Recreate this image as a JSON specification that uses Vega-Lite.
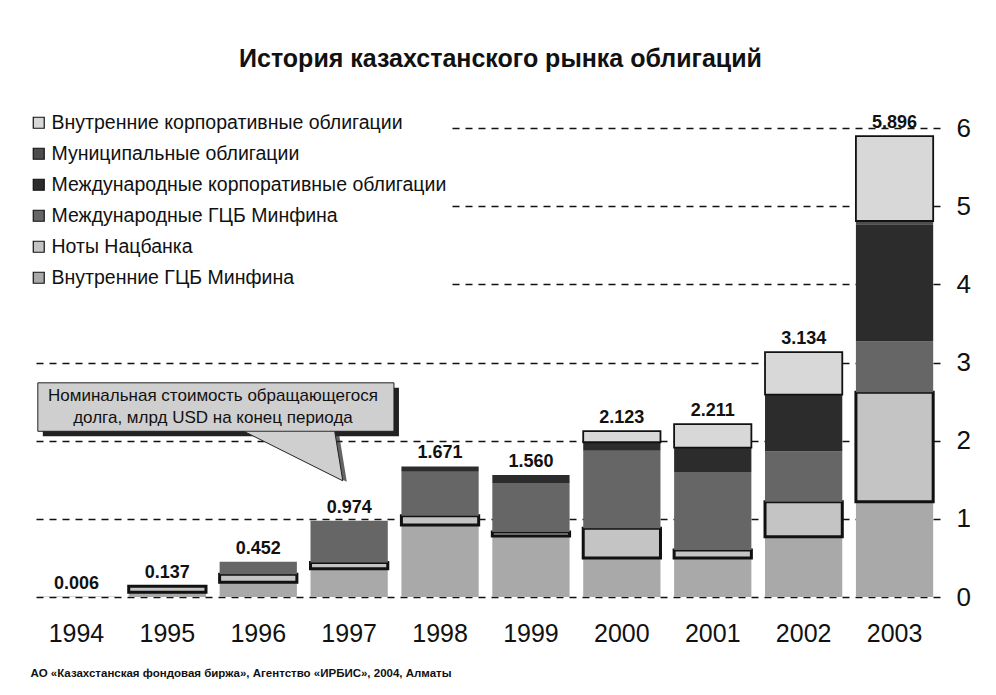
{
  "$schema": "https://vega.github.io/schema/vega-lite/v6.json",
  "autosize": "none",
  "width": 909,
  "height": 469,
  "padding": {"left": 31, "top": 128, "right": 56, "bottom": 98},
  "background": "white",
  "config": {
    "font": "Liberation Sans",
    "view": {"stroke": null}
  },
  "title": {
    "text": "История казахстанского рынка облигаций",
    "fontSize": 25,
    "fontWeight": "bold",
    "font": "Liberation Sans",
    "color": "#111",
    "anchor": "middle",
    "frame": "group",
    "dx": 15,
    "offset": 39
  },
  "datasets": {
    "segments": [
      {"year": "1994", "series": "Внутренние ГЦБ Минфина", "value": 0.006},
      {"year": "1995", "series": "Внутренние ГЦБ Минфина", "value": 0.06},
      {"year": "1995", "series": "Ноты Нацбанка", "value": 0.077},
      {"year": "1996", "series": "Внутренние ГЦБ Минфина", "value": 0.19},
      {"year": "1996", "series": "Ноты Нацбанка", "value": 0.10},
      {"year": "1996", "series": "Международные ГЦБ Минфина", "value": 0.162},
      {"year": "1997", "series": "Внутренние ГЦБ Минфина", "value": 0.36},
      {"year": "1997", "series": "Ноты Нацбанка", "value": 0.08},
      {"year": "1997", "series": "Международные ГЦБ Минфина", "value": 0.534},
      {"year": "1998", "series": "Внутренние ГЦБ Минфина", "value": 0.92},
      {"year": "1998", "series": "Ноты Нацбанка", "value": 0.12},
      {"year": "1998", "series": "Международные ГЦБ Минфина", "value": 0.561},
      {"year": "1998", "series": "Международные корпоративные облигации", "value": 0.07},
      {"year": "1999", "series": "Внутренние ГЦБ Минфина", "value": 0.78},
      {"year": "1999", "series": "Ноты Нацбанка", "value": 0.05},
      {"year": "1999", "series": "Международные ГЦБ Минфина", "value": 0.63},
      {"year": "1999", "series": "Международные корпоративные облигации", "value": 0.10},
      {"year": "2000", "series": "Внутренние ГЦБ Минфина", "value": 0.50},
      {"year": "2000", "series": "Ноты Нацбанка", "value": 0.38},
      {"year": "2000", "series": "Международные ГЦБ Минфина", "value": 0.99},
      {"year": "2000", "series": "Международные корпоративные облигации", "value": 0.11},
      {"year": "2000", "series": "Внутренние корпоративные облигации", "value": 0.143},
      {"year": "2001", "series": "Внутренние ГЦБ Минфина", "value": 0.50},
      {"year": "2001", "series": "Ноты Нацбанка", "value": 0.10},
      {"year": "2001", "series": "Международные ГЦБ Минфина", "value": 1.00},
      {"year": "2001", "series": "Международные корпоративные облигации", "value": 0.31},
      {"year": "2001", "series": "Внутренние корпоративные облигации", "value": 0.301},
      {"year": "2002", "series": "Внутренние ГЦБ Минфина", "value": 0.77},
      {"year": "2002", "series": "Ноты Нацбанка", "value": 0.45},
      {"year": "2002", "series": "Международные ГЦБ Минфина", "value": 0.64},
      {"year": "2002", "series": "Международные корпоративные облигации", "value": 0.73},
      {"year": "2002", "series": "Внутренние корпоративные облигации", "value": 0.544},
      {"year": "2003", "series": "Внутренние ГЦБ Минфина", "value": 1.22},
      {"year": "2003", "series": "Ноты Нацбанка", "value": 1.40},
      {"year": "2003", "series": "Международные ГЦБ Минфина", "value": 0.65},
      {"year": "2003", "series": "Международные корпоративные облигации", "value": 1.50},
      {"year": "2003", "series": "Муниципальные облигации", "value": 0.04},
      {"year": "2003", "series": "Внутренние корпоративные облигации", "value": 1.086}
    ],
    "totals": [
      {"year": "1994", "total": 0.006},
      {"year": "1995", "total": 0.137},
      {"year": "1996", "total": 0.452},
      {"year": "1997", "total": 0.974},
      {"year": "1998", "total": 1.671},
      {"year": "1999", "total": 1.560},
      {"year": "2000", "total": 2.123},
      {"year": "2001", "total": 2.211},
      {"year": "2002", "total": 3.134},
      {"year": "2003", "total": 5.896}
    ],
    "note": [
      {"line1": "Номинальная стоимость обращающегося", "line2": "долга, млрд USD на конец периода"}
    ]
  },
  "encoding": {
    "x": {
      "field": "year",
      "type": "nominal",
      "scale": {"domain": ["1994","1995","1996","1997","1998","1999","2000","2001","2002","2003"], "paddingInner": 0.15, "paddingOuter": 0.075},
      "axis": {
        "labelAngle": 0,
        "labelFontSize": 25,
        "labelColor": "#111",
        "labelPadding": 24,
        "domain": false,
        "ticks": false,
        "title": "АО «Казахстанская фондовая биржа», Агентство «ИРБИС», 2004, Алматы",
        "titleFontSize": 11.5,
        "titleFontWeight": "bold",
        "titleColor": "#111",
        "titleAnchor": "start",
        "titleAlign": "left",
        "titleX": -1,
        "titleY": 79,
        "titleBaseline": "alphabetic"
      }
    }
  },
  "layer": [
    {
      "data": {"name": "segments"},
      "transform": [
        {"calculate": "indexof(['Внутренние ГЦБ Минфина', 'Ноты Нацбанка', 'Международные ГЦБ Минфина', 'Международные корпоративные облигации', 'Муниципальные облигации', 'Внутренние корпоративные облигации'], datum.series)", "as": "stackRank"}
      ],
      "mark": {"type": "bar", "strokeJoin": "miter"},
      "encoding": {
        "y": {
          "field": "value",
          "type": "quantitative",
          "stack": "zero",
          "scale": {"domain": [0, 6], "nice": false},
          "axis": {
            "orient": "right",
            "values": [0,1,2,3,4,5,6],
            "format": "d",
            "labelFontSize": 26,
            "labelColor": "#111",
            "labelPadding": 16,
            "domain": false,
            "ticks": false,
            "grid": true,
            "gridColor": "#111",
            "gridDash": [7, 6],
            "gridWidth": 1.3,
            "title": null
          }
        },
        "order": {"field": "stackRank", "type": "quantitative", "sort": "ascending"},
        "color": {
          "field": "series",
          "type": "nominal",
          "sort": ["Внутренние корпоративные облигации", "Муниципальные облигации", "Международные корпоративные облигации", "Международные ГЦБ Минфина", "Ноты Нацбанка", "Внутренние ГЦБ Минфина"],
          "scale": {
            "domain": ["Внутренние корпоративные облигации", "Муниципальные облигации", "Международные корпоративные облигации", "Международные ГЦБ Минфина", "Ноты Нацбанка", "Внутренние ГЦБ Минфина"],
            "range": ["#d8d8d8", "#4d4d4d", "#2c2c2c", "#666666", "#c4c4c4", "#a9a9a9"]
          },
          "legend": {
            "title": null,
            "orient": "none",
            "legendX": -4,
            "legendY": -17,
            "direction": "vertical",
            "fillColor": "white",
            "padding": 2,
            "labelFontSize": 19.5,
            "labelColor": "#111",
            "labelOffset": 3,
            "labelLimit": 500,
            "rowPadding": 10,
            "symbolType": "square",
            "symbolSize": 120,
            "symbolStrokeColor": "#111",
            "symbolStrokeWidth": 1.2,
            "symbolOpacity": 1
          }
        },
        "stroke": {
          "condition": {"test": "datum.series === 'Ноты Нацбанка' || datum.series === 'Внутренние корпоративные облигации'", "value": "#111111"},
          "value": null
        },
        "strokeWidth": {
          "condition": {"test": "datum.series === 'Ноты Нацбанка'", "value": 3},
          "value": 1.8
        }
      }
    },
    {
      "data": {"name": "totals"},
      "mark": {"type": "text", "baseline": "bottom", "dy": -4, "fontSize": 18, "fontWeight": "bold", "color": "#111"},
      "encoding": {
        "y": {"field": "total", "type": "quantitative"},
        "text": {"field": "total", "type": "quantitative", "format": ".3f"}
      }
    },
    {
      "data": {"name": "note"},
      "mark": {"type": "rect", "color": "#222", "xOffset": 5, "yOffset": 5, "x2Offset": 5, "y2Offset": 5},
      "encoding": {
        "x": {"datum": "1994", "bandPosition": 0},
        "x2": {"datum": "1997", "bandPosition": 1.08},
        "y": {"datum": 2.12},
        "y2": {"datum": 2.74}
      }
    },
    {
      "data": {"name": "note"},
      "mark": {"type": "point", "shape": "M-0.98,-0.49 L0.98,0.49 L0.82,-0.49", "size": 10000, "filled": true, "color": "#222", "xOffset": 4, "yOffset": 1},
      "encoding": {
        "x": {"datum": "1996", "bandPosition": 0.96},
        "y": {"datum": 1.80}
      }
    },
    {
      "data": {"name": "note"},
      "mark": {"type": "rect", "fill": "#cfcfcf", "stroke": "#222", "strokeWidth": 1},
      "encoding": {
        "x": {"datum": "1994", "bandPosition": 0},
        "x2": {"datum": "1997", "bandPosition": 1.08},
        "y": {"datum": 2.12},
        "y2": {"datum": 2.74}
      }
    },
    {
      "data": {"name": "note"},
      "mark": {"type": "point", "shape": "M-0.98,-0.49 L0.98,0.49 L0.82,-0.49", "size": 10000, "fill": "#cfcfcf", "stroke": "#222", "strokeWidth": 1, "opacity": 1, "fillOpacity": 1},
      "encoding": {
        "x": {"datum": "1996", "bandPosition": 0.96},
        "y": {"datum": 1.80}
      }
    },
    {
      "data": {"name": "note"},
      "mark": {"type": "text", "fontSize": 17, "color": "#111", "align": "center", "baseline": "middle", "dx": 7, "dy": -11},
      "encoding": {
        "x": {"datum": "1995", "bandPosition": 1},
        "y": {"datum": 2.43},
        "text": {"field": "line1"}
      }
    },
    {
      "data": {"name": "note"},
      "mark": {"type": "text", "fontSize": 17, "color": "#111", "align": "center", "baseline": "middle", "dx": 7, "dy": 11},
      "encoding": {
        "x": {"datum": "1995", "bandPosition": 1},
        "y": {"datum": 2.43},
        "text": {"field": "line2"}
      }
    }
  ]
}
